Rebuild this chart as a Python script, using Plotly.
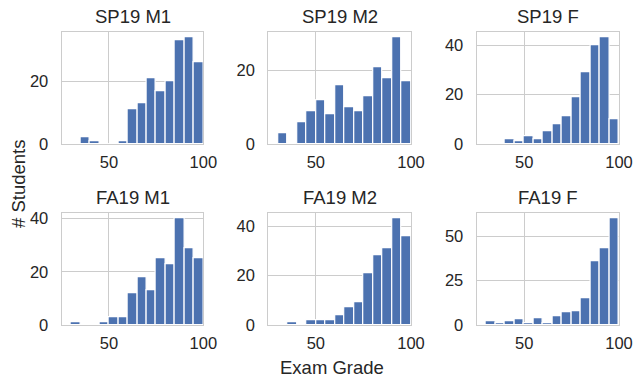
import plotly.graph_objects as go

# Histogram bins (exam grade), 5-point wide, shared by every panel
bin_edges = list(range(25, 105, 5))

titles = ["SP19 M1", "SP19 M2", "SP19 F", "FA19 M1", "FA19 M2", "FA19 F"]

# Number of students per bin
sp19_m1 = [0, 0, 2, 1, 0, 0, 1, 11, 13, 21, 17, 20, 33, 34, 26]
sp19_m2 = [0, 3, 0, 6, 9, 12, 8, 16, 10, 9, 13, 21, 18, 29, 17]
sp19_f = [0, 0, 0, 2, 1, 3, 2, 5, 8, 11, 19, 29, 40, 43, 10]
fa19_m1 = [0, 1, 0, 0, 1, 3, 3, 12, 18, 13, 25, 23, 40, 29, 25]
fa19_m2 = [0, 0, 1, 0, 2, 2, 2, 4, 7, 9, 21, 28, 31, 43, 36]
fa19_f = [0, 2, 1, 2, 3, 1, 4, 1, 5, 7, 8, 15, 36, 43, 60]

counts = [sp19_m1, sp19_m2, sp19_f, fa19_m1, fa19_m2, fa19_f]

x_ticks = [50, 100]
y_tick_step = [20, 20, 20, 20, 20, 25]

W, H = 634, 379
BAR = "#4c72b0"
GRID = "#cccccc"
TEXT = "#262626"
FONT = "Arial, Liberation Sans, sans-serif"

# panel frames in pixels: (left, right) per column, (top, bottom) per row
cols = [(61.7, 203.3), (268.3, 411.0), (476.7, 619.0)]
rows = [(32.3, 144.0), (213.3, 325.0)]

centers = [(a + b) / 2 for a, b in zip(bin_edges[:-1], bin_edges[1:])]
widths = [b - a for a, b in zip(bin_edges[:-1], bin_edges[1:])]

fig = go.Figure()
annotations = []
for i, (title, c) in enumerate(zip(titles, counts)):
    r, k = divmod(i, 3)
    n = i + 1
    xa = "x" if n == 1 else f"x{n}"
    ya = "y" if n == 1 else f"y{n}"
    fig.add_trace(go.Bar(
        x=centers, y=c, width=widths, xaxis=xa, yaxis=ya,
        marker=dict(color=BAR, line=dict(color="white", width=1.2)),
        showlegend=False, hoverinfo="x+y",
    ))
    x0, x1 = cols[k]
    top, bot = rows[r]
    ymax = max(c) * 1.05
    step = y_tick_step[i]
    yt = list(range(0, int(ymax) + 1, step))
    common = dict(
        showline=True, mirror=True, linecolor=GRID, linewidth=1.2,
        showgrid=True, gridcolor=GRID, gridwidth=1.2, zeroline=False,
        ticks="outside", tickcolor="rgba(0,0,0,0)",
        tickfont=dict(family=FONT, size=16.5, color=TEXT),
        layer="above traces", automargin=False,
    )
    fig.layout[f"xaxis{'' if n == 1 else n}"] = dict(
        domain=[x0 / W, x1 / W], anchor=ya, range=[bin_edges[0], bin_edges[-1]],
        tickvals=x_ticks, ticklen=3, **common,
    )
    fig.layout[f"yaxis{'' if n == 1 else n}"] = dict(
        domain=[1 - bot / H, 1 - top / H], anchor=xa, range=[0, ymax],
        tickvals=yt, ticklen=9, **common,
    )
    annotations.append(dict(
        text=title, xref="paper", yref="paper",
        x=(x0 + x1) / 2 / W, y=1 - (top - 3) / H,
        xanchor="center", yanchor="bottom", showarrow=False,
        font=dict(family=FONT, size=18.5, color=TEXT),
    ))

# shared axis labels
annotations.append(dict(
    text="# Students", xref="paper", yref="paper",
    x=19 / W, y=1 - 184 / H, xanchor="center", yanchor="middle",
    textangle=-90, showarrow=False,
    font=dict(family=FONT, size=18.5, color=TEXT),
))
annotations.append(dict(
    text="Exam Grade", xref="paper", yref="paper",
    x=332 / W, y=1 - 367 / H,
    xanchor="center", yanchor="middle", showarrow=False,
    font=dict(family=FONT, size=18.5, color=TEXT),
))

fig.update_layout(
    width=W, height=H,
    margin=dict(l=0, r=0, t=0, b=0, autoexpand=False),
    paper_bgcolor="white", plot_bgcolor="white",
    bargap=0, annotations=annotations,
)

fig.write_html("out.html")
